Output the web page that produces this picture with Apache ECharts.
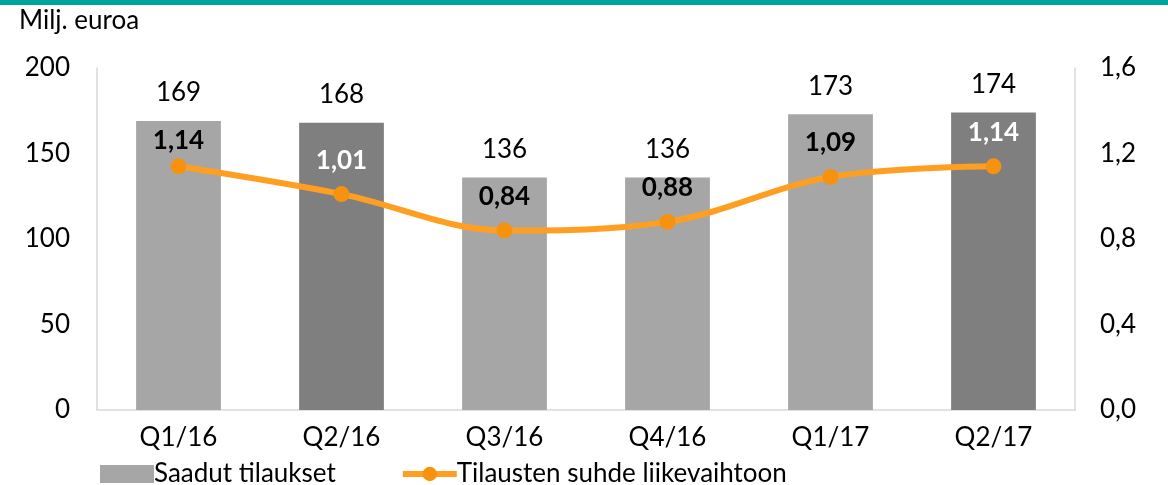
<!DOCTYPE html>
<html>
<head>
<meta charset="utf-8">
<script src="https://cdn.jsdelivr.net/npm/echarts@6/dist/echarts.min.js"></script>
<style>
  html, body { margin: 0; padding: 0; background: #fff; }
  #main { width: 1168px; height: 485px; }
</style>
</head>
<body>
<div id="main"></div>
<script>
  // data
  var categories = ['Q1/16', 'Q2/16', 'Q3/16', 'Q4/16', 'Q1/17', 'Q2/17'];
  var orders = [169, 168, 136, 136, 173, 174];
  var ratio = [1.14, 1.01, 0.84, 0.88, 1.09, 1.14];
  var leftTicks = [0, 50, 100, 150, 200];
  var rightTicks = [0, 0.4, 0.8, 1.2, 1.6];

  var FONT = 'Lato, "Open Sans", sans-serif';
  var FS = 26;
  var darkBars = [1, 5]; // Q2 bars are darker

  var barItems = orders.map(function (v, i) {
    var dark = darkBars.indexOf(i) >= 0;
    return { value: v, itemStyle: { color: dark ? '#7f7f7f' : '#a6a6a6' } };
  });
  var lineItems = ratio.map(function (v, i) {
    var dark = darkBars.indexOf(i) >= 0;
    var it = { value: v, label: { color: dark ? '#ffffff' : '#000000' } };
    if (i === 0) it.label.distance = 5;
    return it;
  });

  var fmtComma = function (v) { return Number(v).toFixed(2).replace('.', ','); };

  var myChart = echarts.init(document.getElementById('main'));
  var option = {
    animation: false,
    textStyle: { fontFamily: FONT },
    graphic: [
      { type: 'rect', left: 0, top: 0, shape: { width: 1168, height: 5 }, style: { fill: '#00a39b' } },
      { type: 'text', left: 19, top: 8, style: { text: 'Milj. euroa', fontSize: FS, fontFamily: FONT, fill: '#000' } }
    ],
    grid: { left: 97, right: 93, top: 68, bottom: 75 },
    legend: {
      left: 95,
      top: 456,
      itemGap: 64,
      itemWidth: 54,
      itemHeight: 18,
      textStyle: { fontSize: FS, fontFamily: FONT, color: '#000', padding: [0, 0, 0, -5] },
      data: [
        { name: 'Saadut tilaukset', icon: 'rect', itemStyle: { color: '#a6a6a6' } },
        { name: 'Tilausten suhde liikevaihtoon', lineStyle: { width: 6 } }
      ]
    },
    xAxis: {
      type: 'category',
      data: categories,
      axisLine: { lineStyle: { color: '#d9d9d9', width: 1.5 } },
      axisTick: { show: false },
      axisLabel: { fontSize: FS, color: '#000', margin: 15, fontFamily: FONT }
    },
    yAxis: [
      {
        type: 'value', min: leftTicks[0], max: leftTicks[leftTicks.length - 1], interval: 50,
        axisLine: { show: true, lineStyle: { color: '#d9d9d9', width: 1.5 } },
        axisTick: { show: false },
        splitLine: { show: false },
        axisLabel: { fontSize: FS, color: '#000', margin: 27, fontFamily: FONT }
      },
      {
        type: 'value', min: rightTicks[0], max: rightTicks[rightTicks.length - 1], interval: 0.4,
        axisLine: { show: true, lineStyle: { color: '#d9d9d9', width: 1.5 } },
        axisTick: { show: false },
        splitLine: { show: false },
        axisLabel: {
          fontSize: FS, color: '#000', margin: 25, fontFamily: FONT,
          formatter: function (v) { return Number(v).toFixed(1).replace('.', ','); }
        }
      }
    ],
    series: [
      {
        name: 'Saadut tilaukset',
        type: 'bar',
        barWidth: '52%',
        yAxisIndex: 0,
        itemStyle: { color: '#a6a6a6' },
        label: { show: true, position: 'top', distance: 15, fontSize: FS, color: '#000', fontFamily: FONT },
        data: barItems
      },
      {
        name: 'Tilausten suhde liikevaihtoon',
        type: 'line',
        yAxisIndex: 1,
        smooth: 0.35,
        symbol: 'circle',
        symbolSize: 16,
        lineStyle: { color: '#ff9f22', width: 6 },
        itemStyle: { color: '#f7920f' },
        label: {
          show: true, position: 'top', distance: 13, fontSize: FS, fontWeight: 'bold', fontFamily: FONT,
          formatter: function (p) { return fmtComma(p.value); }
        },
        data: lineItems
      }
    ]
  };
  myChart.setOption(option);
</script>
</body>
</html>
